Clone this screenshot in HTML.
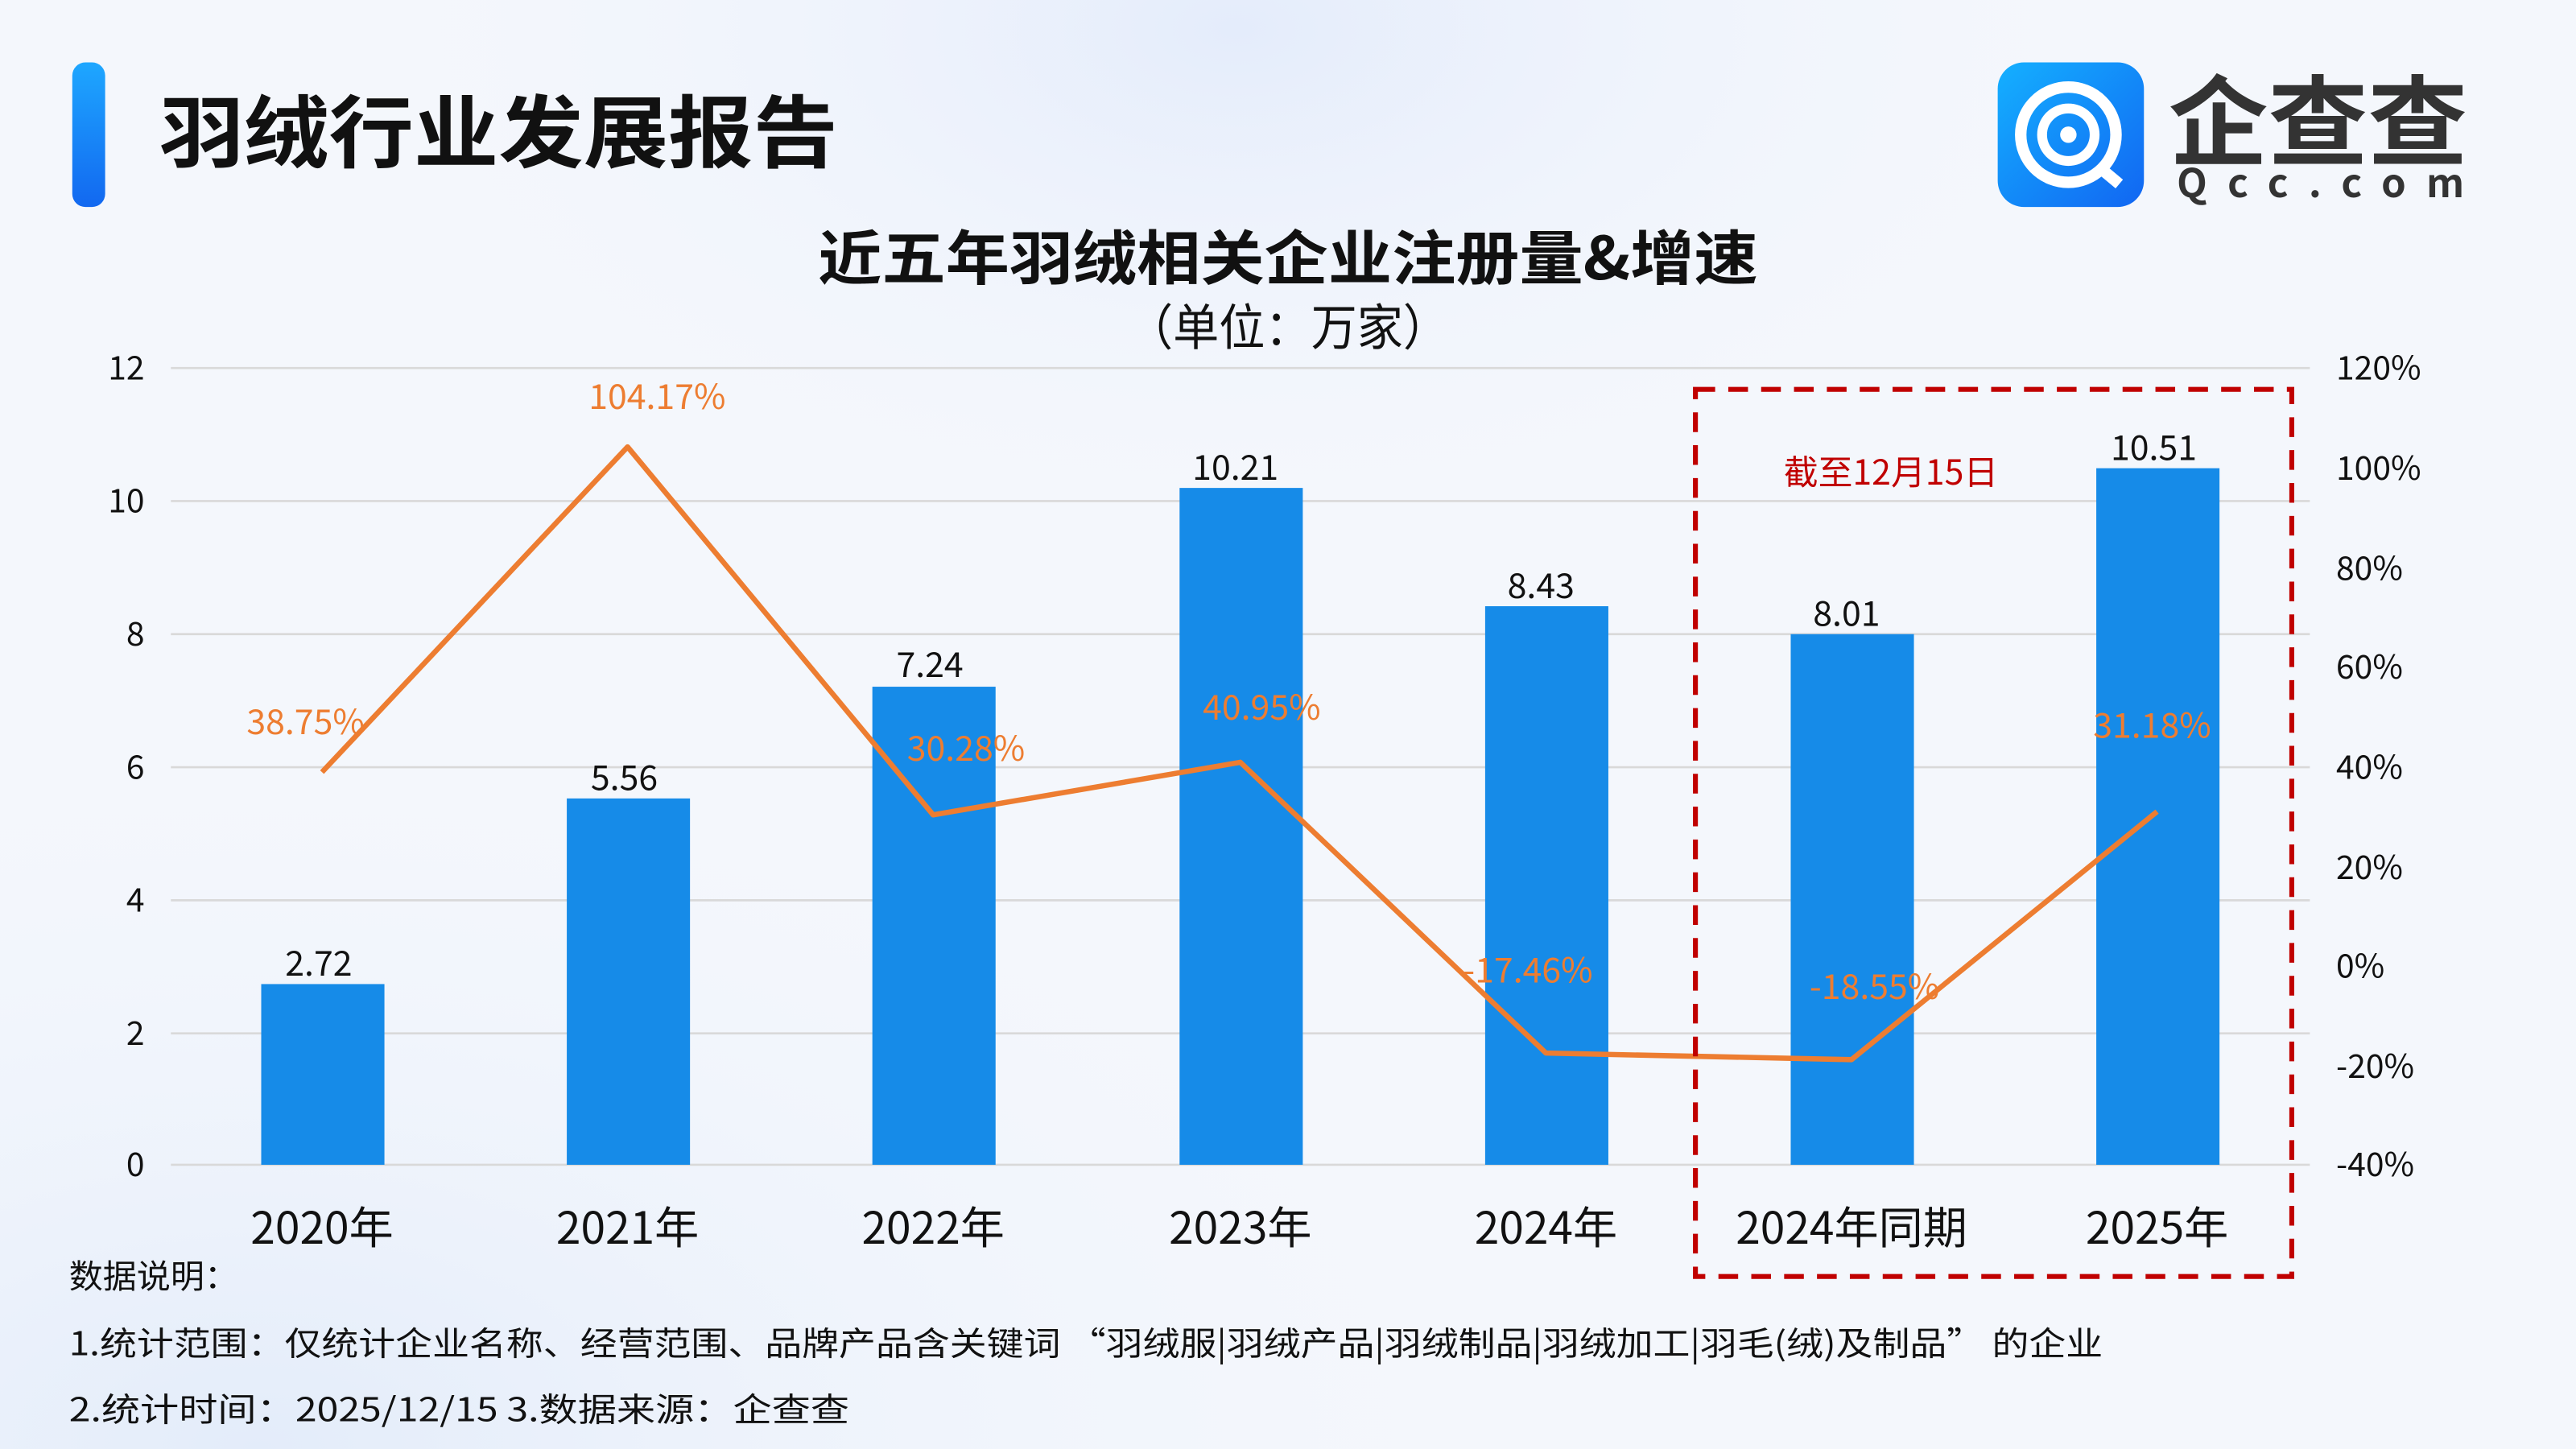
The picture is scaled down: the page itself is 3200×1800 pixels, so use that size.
<!DOCTYPE html>
<html><head><meta charset="utf-8"><style>
html,body{margin:0;padding:0;width:3200px;height:1800px;overflow:hidden;background:#f3f6fc}
svg{display:block}
text{font-family:"Noto Sans CJK SC","Liberation Sans",sans-serif}
</style></head><body>
<svg width="3200" height="1800" viewBox="0 0 1568 882" xmlns="http://www.w3.org/2000/svg">
<defs>
<radialGradient id="bg1" cx="0.48" cy="0.02" r="0.35">
<stop offset="0" stop-color="#e4ecfb"/><stop offset="1" stop-color="#f3f6fc" stop-opacity="0"/>
</radialGradient>
<radialGradient id="bg2" cx="0.1" cy="1" r="0.5">
<stop offset="0" stop-color="#e3ecfa"/><stop offset="1" stop-color="#f3f6fc" stop-opacity="0"/>
</radialGradient>
<linearGradient id="vb" x1="0" y1="0" x2="0" y2="1"><stop offset="0" stop-color="#1ea7ff"/><stop offset="1" stop-color="#1268f0"/></linearGradient>
<linearGradient id="lg" x1="0" y1="0" x2="1" y2="1"><stop offset="0" stop-color="#14b0ff"/><stop offset="1" stop-color="#1166f2"/></linearGradient>
</defs>
<rect width="1568" height="882" fill="#f4f7fc"/>
<rect width="1568" height="882" fill="url(#bg1)"/>
<rect width="1568" height="882" fill="url(#bg2)"/>
<rect x="44" y="38" width="20" height="88" rx="8" fill="url(#vb)"/>
<text x="97" y="98" font-size="48" font-weight="bold" fill="#111" textLength="413" lengthAdjust="spacingAndGlyphs">羽绒行业发展报告</text>
<rect x="1216" y="38" width="89" height="88" rx="16" fill="url(#lg)"/>
<circle cx="1259" cy="82" r="29" fill="none" stroke="#fff" stroke-width="7"/>
<circle cx="1259" cy="82" r="16" fill="none" stroke="#fff" stroke-width="6"/>
<circle cx="1259" cy="82" r="5" fill="#fff"/>
<line x1="1278" y1="102" x2="1290" y2="112" stroke="#fff" stroke-width="7"/>
<text x="1320" y="96" font-size="60" font-weight="bold" fill="#333" textLength="182" lengthAdjust="spacingAndGlyphs">企查查</text>
<text x="1325" y="120" font-size="24" fill="#333" font-weight="bold" textLength="175" lengthAdjust="spacing">Qcc.com</text>
<text x="498" y="170" font-size="36" font-weight="bold" fill="#111" textLength="572" lengthAdjust="spacingAndGlyphs">近五年羽绒相关企业注册量&amp;增速</text>
<text x="686" y="210" font-size="30" fill="#111" textLength="196" lengthAdjust="spacingAndGlyphs">（单位：万家）</text>
<g stroke="#d9d9d9" stroke-width="1.3">
<line x1="104" y1="224" x2="1406" y2="224"/><line x1="104" y1="305" x2="1406" y2="305"/>
<line x1="104" y1="386" x2="1406" y2="386"/><line x1="104" y1="467" x2="1406" y2="467"/>
<line x1="104" y1="548" x2="1406" y2="548"/><line x1="104" y1="629" x2="1406" y2="629"/>
<line x1="104" y1="709" x2="1406" y2="709"/>
</g>
<g font-size="20" fill="#111" text-anchor="end">
<text x="88" y="231">12</text><text x="88" y="312">10</text><text x="88" y="393">8</text>
<text x="88" y="474">6</text><text x="88" y="555">4</text><text x="88" y="636">2</text><text x="88" y="716">0</text>
</g>
<g font-size="20" fill="#111">
<text x="1422" y="231">120%</text><text x="1422" y="292">100%</text><text x="1422" y="353">80%</text>
<text x="1422" y="413">60%</text><text x="1422" y="474">40%</text><text x="1422" y="535">20%</text>
<text x="1422" y="595">0%</text><text x="1422" y="656">-20%</text><text x="1422" y="716">-40%</text>
</g>
<g fill="#168be8">
<rect x="159" y="599" width="75" height="110"/>
<rect x="345" y="486" width="75" height="223"/>
<rect x="531" y="418" width="75" height="291"/>
<rect x="718" y="297" width="75" height="412"/>
<rect x="904" y="369" width="75" height="340"/>
<rect x="1090" y="386" width="75" height="323"/>
<rect x="1276" y="285" width="75" height="424"/>
</g>
<g font-size="21" fill="#111" text-anchor="middle">
<text x="194" y="594">2.72</text><text x="380" y="481">5.56</text><text x="566" y="412">7.24</text>
<text x="752" y="292">10.21</text><text x="938" y="364">8.43</text><text x="1124" y="381">8.01</text><text x="1311" y="280">10.51</text>
</g>
<polyline points="196,470 382,272 568,496 755,464 941,641 1127,645 1313,494" fill="none" stroke="#ed7d31" stroke-width="3.2" stroke-linejoin="round"/>
<g font-size="21" fill="#ed7d31" text-anchor="middle">
<text x="186" y="447">38.75%</text><text x="400" y="249">104.17%</text><text x="588" y="463">30.28%</text>
<text x="768" y="438">40.95%</text><text x="930" y="598">-17.46%</text><text x="1141" y="608">-18.55%</text><text x="1310" y="449">31.18%</text>
</g>
<g font-size="27" fill="#111" text-anchor="middle">
<text x="196" y="757">2020年</text><text x="382" y="757">2021年</text><text x="568" y="757">2022年</text>
<text x="755" y="757">2023年</text><text x="941" y="757">2024年</text><text x="1127" y="757">2024年同期</text><text x="1313" y="757">2025年</text>
</g>
<rect x="1032" y="237" width="363" height="540" fill="none" stroke="#c00000" stroke-width="3" stroke-dasharray="12,8"/>
<text x="1151" y="295" font-size="21" fill="#c00000" text-anchor="middle">截至12月15日</text>
<g font-size="20" fill="#111">
<text x="42" y="784" textLength="103" lengthAdjust="spacingAndGlyphs">数据说明：</text>
<text x="42" y="825" textLength="1238" lengthAdjust="spacingAndGlyphs">1.统计范围：仅统计企业名称、经营范围、品牌产品含关键词 “羽绒服|羽绒产品|羽绒制品|羽绒加工|羽毛(绒)及制品” 的企业</text>
<text x="42" y="865" textLength="475" lengthAdjust="spacingAndGlyphs">2.统计时间：2025/12/15  3.数据来源：企查查</text>
</g>
</svg>
</body></html>
